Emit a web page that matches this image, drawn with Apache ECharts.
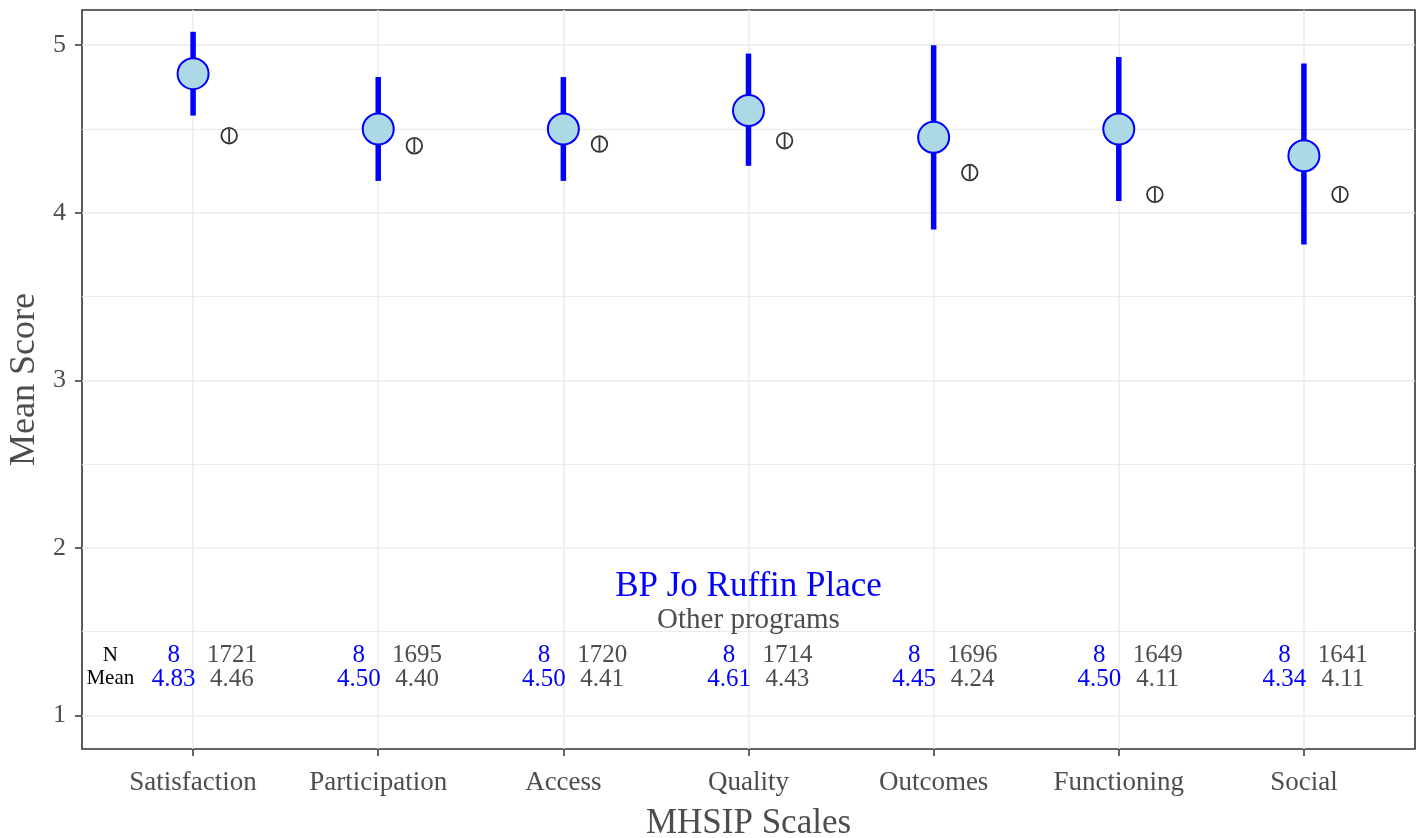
<!DOCTYPE html>
<html>
<head>
<meta charset="utf-8">
<script src="https://cdn.jsdelivr.net/npm/echarts@6/dist/echarts.min.js"></script>
<style>
html,body{margin:0;padding:0;background:#fff;}
#chart{width:1419px;height:838px;}
</style>
</head>
<body>
<div id="chart"></div>
<script>
var categories = ['Satisfaction','Participation','Access','Quality','Outcomes','Functioning','Social'];
var progMean = [4.83, 4.50, 4.50, 4.61, 4.45, 4.50, 4.34];
var progLow  = [4.58, 4.19, 4.19, 4.28, 3.90, 4.07, 3.81];
var progHigh = [5.08, 4.81, 4.81, 4.95, 5.00, 4.93, 4.89];
var progN    = [8, 8, 8, 8, 8, 8, 8];
var otherMean = [4.46, 4.40, 4.41, 4.43, 4.24, 4.11, 4.11];
var otherLow  = [4.42, 4.36, 4.37, 4.39, 4.20, 4.07, 4.07];
var otherHigh = [4.50, 4.44, 4.45, 4.47, 4.28, 4.15, 4.15];
var otherN    = [1721, 1695, 1720, 1714, 1696, 1649, 1641];
var yTicks = [1, 2, 3, 4, 5];
var yMinorTicks = [1.5, 2.5, 3.5, 4.5];
var programName = 'BP Jo Ruffin Place';
var otherName = 'Other programs';

var FONT = '"Liberation Serif", "DejaVu Serif", serif';
var GREY = '#4d4d4d';
var BLUE = '#0000ff';
var OTHER_OFFSET = 0.195;

var catIdx = categories.map(function(c, i){ return i; });

function errBar(color, width) {
  return function(params, api) {
    var top = api.coord([api.value(0), api.value(2)]);
    var bot = api.coord([api.value(0), api.value(1)]);
    return {type:'line', shape:{x1:top[0], y1:top[1], x2:bot[0], y2:bot[1]},
            style:{stroke:color, lineWidth:width}};
  };
}

var progBarData = catIdx.map(function(i){ return [i, progLow[i], progHigh[i]]; });
var progPointData = catIdx.map(function(i){ return [i, progMean[i]]; });
var otherData = catIdx.map(function(i){ return [i + OTHER_OFFSET, otherLow[i], otherHigh[i], otherMean[i]]; });

// text annotations: [x, y, text, color, size]
var textData = [];
catIdx.forEach(function(i){
  textData.push([i - 0.105, 1.36, String(progN[i]), BLUE, 25]);
  textData.push([i - 0.105, 1.218, progMean[i].toFixed(2), BLUE, 25]);
  textData.push([i + 0.21, 1.36, String(otherN[i]), GREY, 25]);
  textData.push([i + 0.21, 1.218, otherMean[i].toFixed(2), GREY, 25]);
});
textData.push([-0.447, 1.36, 'N', '#000', 21]);
textData.push([-0.447, 1.218, 'Mean', '#000', 21]);
textData.push([3, 1.77, programName, BLUE, 35]);
textData.push([3, 1.568, otherName, GREY, 29]);

var chart = echarts.init(document.getElementById('chart'));
chart.setOption({
  animation: false,
  backgroundColor: '#fff',
  grid: {left: 82, right: 4, top: 10, bottom: 89, containLabel: false, outerBoundsMode: 'none',
         show: true, borderColor: '#333', borderWidth: 1.6, backgroundColor: 'transparent'},
  xAxis: {
    type: 'value', min: -0.6, max: 6.6,
    axisLine: {show: false, onZero: false},
    axisTick: {show: true, length: 7, lineStyle: {color: '#333', width: 1.5}, customValues: catIdx},
    axisLabel: {customValues: catIdx, formatter: function(v){ return categories[Math.round(v)] || ''; },
                color: GREY, fontFamily: FONT, fontSize: 27, margin: 20},
    splitLine: {show: true, lineStyle: {color: '#ebebeb', width: 1.5}},
    name: 'MHSIP Scales', nameLocation: 'middle', nameGap: 57,
    nameTextStyle: {color: GREY, fontFamily: FONT, fontSize: 35}
  },
  yAxis: [{
    type: 'value', min: 0.8, max: 5.21,
    axisLine: {show: false, onZero: false},
    axisTick: {show: true, length: 7, lineStyle: {color: '#333', width: 1.5}, customValues: yTicks},
    axisLabel: {customValues: yTicks, color: GREY, fontFamily: FONT, fontSize: 26, margin: 16},
    splitLine: {show: true, lineStyle: {color: '#ebebeb', width: 1.5}},
    name: 'Mean Score', nameLocation: 'middle', nameGap: 35, nameRotate: 90,
    nameTextStyle: {color: GREY, fontFamily: FONT, fontSize: 36}
  }, {
    type: 'value', min: 0.8, max: 5.21, position: 'left',
    axisLine: {show: false, onZero: false},
    axisTick: {show: false, customValues: yMinorTicks},
    axisLabel: {show: false, customValues: yMinorTicks},
    splitLine: {show: true, lineStyle: {color: '#ebebeb', width: 1}}
  }],
  series: [
    {type: 'custom', name: 'progCI', renderItem: errBar(BLUE, 5.5), data: progBarData, z: 3,
     encode: {x: 0, y: [1, 2]}},
    {type: 'scatter', name: 'progMean', data: progPointData, symbol: 'circle', symbolSize: 31,
     itemStyle: {color: '#add8e6', borderColor: BLUE, borderWidth: 2, opacity: 1}, z: 4},
    {type: 'custom', name: 'other', data: otherData, z: 3, encode: {x: 0, y: [1, 2]},
     renderItem: function(params, api){
       var c = api.coord([api.value(0), api.value(3)]);
       var top = api.coord([api.value(0), api.value(2)]);
       var bot = api.coord([api.value(0), api.value(1)]);
       return {type: 'group', children: [
         {type: 'circle', shape: {cx: c[0], cy: c[1], r: 7.8}, style: {fill: 'none', stroke: '#333', lineWidth: 1.8}},
         {type: 'line', shape: {x1: top[0], y1: top[1], x2: bot[0], y2: bot[1]}, style: {stroke: '#333', lineWidth: 1.8}}
       ]};
     }},
    {type: 'custom', name: 'labels', data: textData, z: 5, encode: {x: 0, y: 1},
     renderItem: function(params, api){
       var d = textData[params.dataIndex];
       var p = api.coord([d[0], d[1]]);
       return {type: 'text', x: p[0], y: p[1],
               style: {text: d[2], fill: d[3], fontSize: d[4], fontFamily: FONT, align: 'center', verticalAlign: 'middle'}};
     }}
  ]
});
</script>
</body>
</html>
